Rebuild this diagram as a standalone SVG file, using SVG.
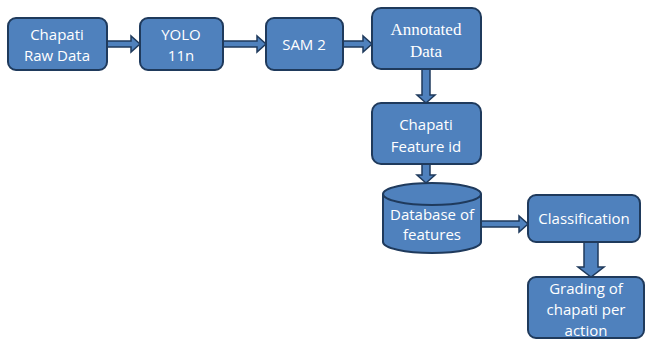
<svg xmlns="http://www.w3.org/2000/svg" width="645" height="342" viewBox="0 0 645 342">
<style>
.box{fill:#4f81bd;stroke:#1f3a5c;stroke-width:2}
.arr{fill:#4f81bd;stroke:#1f3a5c;stroke-width:1.5;stroke-linejoin:miter}
text{font-family:"Open Sans","Liberation Sans",sans-serif;font-size:15px;fill:#fff;text-anchor:middle}
.serif{font-family:"Liberation Serif",serif;font-size:17px}
</style>
<rect width="645" height="342" fill="#fff"/>
<g id="connectors">
<path class="arr" d="M107 41 H131 V36 L140 44 L131 52 V47 H107 Z"/>
<path class="arr" d="M223 41 H257 V36 L266 44 L257 52 V47 H223 Z"/>
<path class="arr" d="M343 41 H363 V36 L372 44 L363 52 V47 H343 Z"/>
<path class="arr" d="M422 69 V95 H417 L426 103 L435 95 H430 V69 Z"/>
<path class="arr" d="M422 164 V175 H417 L426 183 L435 175 H430 V164 Z"/>
<path class="arr" d="M481 221 H519 V216 L528 224 L519 232 V227 H481 Z"/>
<path class="arr" d="M584 242 V267 H578 L591 277 L604 267 H598 V242 Z"/>
</g>
<g id="n1"><rect class="box" x="8" y="18" width="99" height="52" rx="8"/><text x="57" y="40">Chapati</text><text x="57" y="61">Raw Data</text></g>
<g id="n2"><rect class="box" x="140" y="18" width="83" height="52" rx="8"/><text x="181" y="40">YOLO</text><text x="181" y="61">11n</text></g>
<g id="n3"><rect class="box" x="266" y="18" width="77" height="52" rx="8"/><text x="304" y="50">SAM 2</text></g>
<g id="n4"><rect class="box" x="372" y="8" width="109" height="61" rx="9"/><text class="serif" x="426" y="35">Annotated</text><text class="serif" x="426" y="57">Data</text></g>
<g id="n5"><rect class="box" x="372" y="103" width="109" height="61" rx="9"/><text x="426" y="130">Chapati</text><text x="426" y="152">Feature id</text></g>
<g id="n6"><path class="box" d="M383 194 V242 A49 11 0 0 0 481 242 V194"/><ellipse class="box" cx="432" cy="194" rx="49" ry="11"/><text x="432" y="220">Database of</text><text x="432" y="240">features</text></g>
<g id="n7"><rect class="box" x="528" y="195" width="112" height="47" rx="8"/><text x="584" y="224">Classification</text></g>
<g id="n8"><rect class="box" x="528" y="277" width="116" height="61" rx="8"/><text x="586" y="294">Grading of</text><text x="586" y="315">chapati per</text><text x="586" y="336">action</text></g>
</svg>
